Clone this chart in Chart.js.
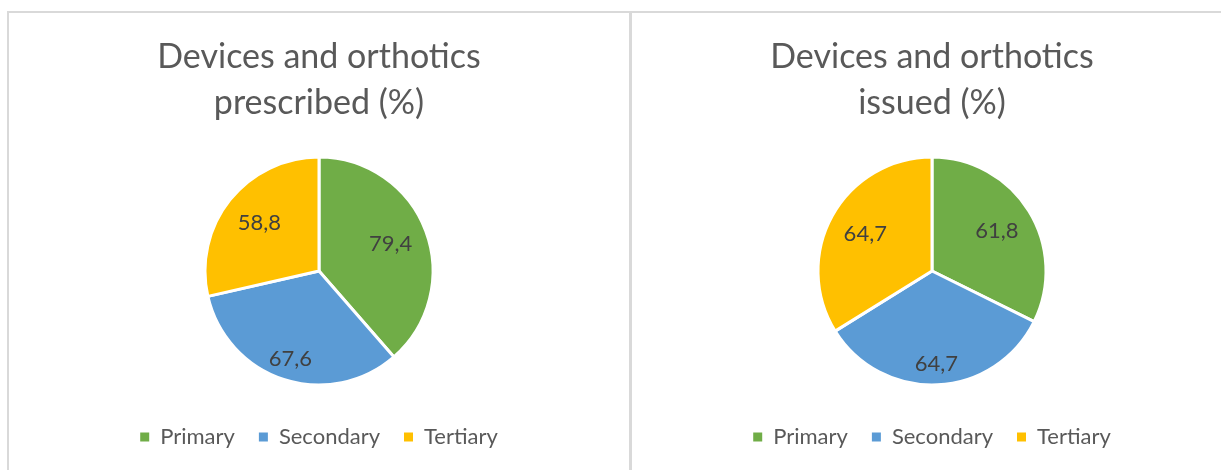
<!DOCTYPE html>
<html>
<head>
<meta charset="utf-8">
<script src="https://cdn.jsdelivr.net/npm/chart.js@4"></script>
<style>
  html, body { margin: 0; padding: 0; background: #fff; overflow: hidden; }
  body { width: 1221px; height: 470px; position: relative; }
  .panel { position: absolute; top: 11px; height: 480px; border: 2px solid #d9d9d9; box-sizing: border-box; }
  .panel .box { position: absolute; left: 0; top: 0; right: 0; height: 457px; }
</style>
</head>
<body>
<div class="panel" style="left:7px;width:624px;"><div class="box"><canvas id="chart1"></canvas></div></div>
<div class="panel" style="left:630px;width:604px;"><div class="box"><canvas id="chart2"></canvas></div></div>
<script>
document.addEventListener("DOMContentLoaded", function () {
    const categories = ["Primary", "Secondary", "Tertiary"];
    const prescribed = [79.4, 67.6, 58.8];
    const issued = [61.8, 64.7, 64.7];
    const titles = [
        ["Devices and orthotics", "prescribed (%)"],
        ["Devices and orthotics", "issued (%)"],
    ];
    const colors = ["#70ad47", "#5b9bd5", "#ffc000"];

    // draws the value inside each slice, like excel's best fit
    const sliceLabels = {
        id: "sliceLabels",
        afterDatasetsDraw(chart) {
            const ctx = chart.ctx;
            const meta = chart.getDatasetMeta(0);
            const values = chart.data.datasets[0].data;
            ctx.save();
            ctx.font = "22px Lato";
            ctx.fillStyle = "#404040";
            ctx.textAlign = "center";
            ctx.textBaseline = "middle";
            meta.data.forEach(function (arc, i) {
                const p = arc.getProps(["x", "y", "startAngle", "endAngle", "outerRadius"], true);
                const mid = (p.startAngle + p.endAngle) / 2;
                const d = p.outerRadius * (0.67 + 0.15 * Math.max(0, Math.sin(mid)));
                const text = values[i].toFixed(1).replace(".", ",");
                ctx.fillText(text, p.x + Math.cos(mid) * d, p.y + Math.sin(mid) * d);
            });
            ctx.restore();
        },
    };

    function makePie(id, values, title) {
        return new Chart(document.getElementById(id).getContext("2d"), {
            type: "pie",
            data: {
                labels: categories,
                datasets: [
                    {
                        data: values,
                        backgroundColor: colors,
                        borderColor: "#ffffff",
                        borderWidth: 3,
                    },
                ],
            },
            options: {
                responsive: true,
                maintainAspectRatio: false,
                animation: false,
                radius: 114,
                layout: { padding: { top: 0, bottom: 12, left: 0, right: 0 } },
                plugins: {
                    title: {
                        display: true,
                        text: title,
                        color: "#595959",
                        font: { family: "Lato", size: 34, weight: "normal", lineHeight: 46 / 34 },
                        padding: { top: 21, bottom: 14 },
                    },
                    legend: {
                        position: "bottom",
                        labels: {
                            color: "#595959",
                            font: { family: "Lato", size: 22 },
                            boxWidth: 9,
                            boxHeight: 9,
                            padding: 24,
                            generateLabels(chart) {
                                const items = Chart.controllers.pie.overrides.plugins.legend.labels.generateLabels(chart);
                                items.forEach(function (it) { it.lineWidth = 0; });
                                return items;
                            },
                        },
                    },
                    tooltip: { enabled: false },
                },
            },
            plugins: [sliceLabels],
        });
    }

    makePie("chart1", prescribed, titles[0]);
    makePie("chart2", issued, titles[1]);
});
</script>
</body>
</html>
